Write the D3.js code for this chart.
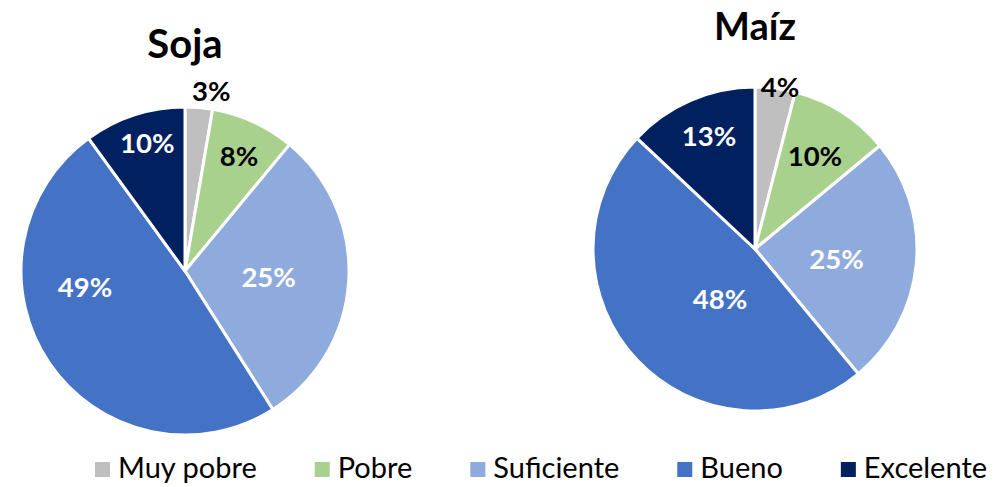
<!DOCTYPE html>
<html>
<head>
<meta charset="utf-8">
<script src="https://cdn.jsdelivr.net/npm/d3@7"></script>
<style>
  html, body { margin: 0; padding: 0; background: #ffffff; }
  svg { display: block; }
</style>
</head>
<body>
<svg id="chart" width="1006" height="487"></svg>
<script>
// ---- data ----
const categories = ["Muy pobre", "Pobre", "Suficiente", "Bueno", "Excelente"];
const sojaValues = [2.7, 8.3, 30, 49, 10];          // slice sizes as drawn
const sojaLabels = ["3%", "8%", "25%", "49%", "10%"];
const maizValues = [4, 10, 25, 48, 13];
const maizLabels = ["4%", "10%", "25%", "48%", "13%"];
const chartTitles = ["Soja", "Maíz"];

// ---- styles / layout ----
const colors = ["#BFBFBF", "#A9D18E", "#8FAADC", "#4472C4", "#002060"];
const labelColors = ["#000000", "#000000", "#ffffff", "#ffffff", "#ffffff"];
const FONT = "Lato, 'Open Sans', sans-serif";

const charts = [
  { title: chartTitles[0], values: sojaValues, labels: sojaLabels,
    cx: 185, cy: 271, r: 164, titleY: 58, titleSize: 40,
    labelPos: [[0.16, -1.10], [0.33, -0.70], [0.51, 0.04], [-0.61, 0.10], [-0.23, -0.78]] },
  { title: chartTitles[1], values: maizValues, labels: maizLabels,
    cx: 755, cy: 249, r: 162, titleY: 40, titleSize: 38,
    labelPos: [[0.154, -0.997], [0.37, -0.574], [0.503, 0.062], [-0.216, 0.309], [-0.284, -0.698]] }
];

const svg = d3.select("#chart");
svg.append("rect").attr("width", 1006).attr("height", 487).attr("fill", "#ffffff");

const pie = d3.pie().sort(null).value(d => d);

charts.forEach(c => {
  const g = svg.append("g").attr("transform", `translate(${c.cx},${c.cy})`);
  const arc = d3.arc().innerRadius(0).outerRadius(c.r);
  const arcs = pie(c.values);
  g.selectAll("path").data(arcs).join("path")
    .attr("d", arc)
    .attr("fill", (d, i) => colors[i])
    .attr("stroke", "#ffffff")
    .attr("stroke-width", 3)
    .attr("stroke-linejoin", "round");

  g.selectAll("text.lbl").data(arcs).join("text")
    .attr("class", "lbl")
    .attr("x", (d, i) => c.labelPos[i][0] * c.r)
    .attr("y", (d, i) => c.labelPos[i][1] * c.r)
    .attr("dy", "0.36em")
    .attr("text-anchor", "middle")
    .attr("font-family", FONT)
    .attr("font-weight", 700)
    .attr("font-size", 27.5)
    .attr("fill", (d, i) => labelColors[i])
    .text((d, i) => c.labels[i]);

  svg.append("text")
    .attr("x", c.cx)
    .attr("y", c.titleY)
    .attr("text-anchor", "middle")
    .attr("font-family", FONT)
    .attr("font-weight", 700)
    .attr("font-size", c.titleSize)
    .attr("fill", "#000000")
    .text(c.title);
});

// ---- legend ----
const legend = svg.append("g");
const items = legend.selectAll("g").data(categories).join("g");
items.append("rect")
  .attr("width", 15).attr("height", 15)
  .attr("y", 462)
  .attr("fill", (d, i) => colors[i]);
items.append("text")
  .attr("y", 478)
  .attr("font-family", FONT)
  .attr("font-size", 29)
  .attr("fill", "#000000")
  .text(d => d);
let x = 95;
items.each(function () {
  const it = d3.select(this);
  const w = it.select("text").node().getComputedTextLength();
  it.select("rect").attr("x", x);
  it.select("text").attr("x", x + 23);
  x += 23 + w + 58;
});
</script>
</body>
</html>
